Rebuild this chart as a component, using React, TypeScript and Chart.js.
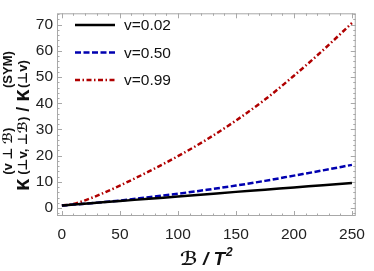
import { useEffect, useRef } from 'react';
import { Chart, registerables } from 'chart.js';

Chart.register(...registerables);

// ---- data ----
const xValues = [0, 10, 25, 50, 75, 100, 125, 150, 175, 200, 225, 250];
const seriesV002 = [1.0, 1.35, 1.9, 2.7, 3.6, 4.4, 5.3, 6.2, 7.0, 7.9, 8.7, 9.6];
const seriesV050 = [1.0, 1.35, 1.9, 2.9, 4.2, 5.5, 7.0, 8.6, 10.4, 12.4, 14.4, 16.5];
const seriesV099 = [1.0, 1.6, 3.8, 8.6, 14.0, 19.8, 26.2, 33.4, 41.4, 50.5, 60.2, 70.6];
const seriesLabels = ['v=0.02', 'v=0.50', 'v=0.99'];
const xTickLabels = [0, 50, 100, 150, 200, 250];
const yTickLabels = [0, 10, 20, 30, 40, 50, 60, 70];
const xMinorStep = 10;
const yMinorStep = 2;

const FONT = '"Liberation Sans", "DejaVu Sans", Arial, sans-serif';

const framePlugin = {
  id: 'mmaFrame',
  beforeDatasetsDraw(chart: any) {
    const { ctx, chartArea } = chart;
    const { left, right, top, bottom } = chartArea;
    const xs = chart.scales.x;
    const ys = chart.scales.y;
    ctx.save();
    ctx.strokeStyle = '#a8a8a8';
    ctx.lineWidth = 1;
    ctx.strokeRect(left + 0.5, top + 0.5, right - left - 1, bottom - top - 1);
    ctx.beginPath();
    for (let v = 0; v <= xs.max; v += xMinorStep) {
      const p = Math.round(xs.getPixelForValue(v)) + 0.5;
      const len = v % 50 === 0 ? 5 : 2.5;
      ctx.moveTo(p, bottom);
      ctx.lineTo(p, bottom - len);
      ctx.moveTo(p, top);
      ctx.lineTo(p, top + len);
    }
    for (let v = -2; v <= ys.max; v += yMinorStep) {
      if (v < ys.min) continue;
      const p = Math.round(ys.getPixelForValue(v)) + 0.5;
      const len = v % 10 === 0 ? 5 : 2.5;
      ctx.moveTo(left, p);
      ctx.lineTo(left + len, p);
      ctx.moveTo(right, p);
      ctx.lineTo(right - len, p);
    }
    ctx.stroke();
    ctx.restore();
  },
};

const legendPlugin = {
  id: 'insideLegend',
  afterDraw(chart: any) {
    const { ctx } = chart;
    ctx.save();
    chart.data.datasets.forEach((ds: any, i: number) => {
      const y = 25 + i * 27.5;
      ctx.strokeStyle = ds.borderColor;
      ctx.lineWidth = ds.borderWidth;
      ctx.setLineDash(ds.borderDash || []);
      ctx.beginPath();
      ctx.moveTo(75, y);
      ctx.lineTo(115, y);
      ctx.stroke();
      ctx.setLineDash([]);
      ctx.fillStyle = '#111';
      ctx.font = `15.5px ${FONT}`;
      ctx.textBaseline = 'middle';
      ctx.textAlign = 'left';
      ctx.fillText(ds.label, 124, y + 1);
    });
    ctx.restore();
  },
};

const titlesPlugin = {
  id: 'axisTitles',
  afterDraw(chart: any) {
    const { ctx, chartArea } = chart;
    ctx.save();
    ctx.fillStyle = '#111';
    ctx.textBaseline = 'alphabetic';
    ctx.textAlign = 'left';

    // ---- x title: ℬ / T² ----
    const mainFont = `italic bold 19px ${FONT}`;
    const supFont = `italic bold 12px ${FONT}`;
    ctx.font = mainFont;
    const mainText = 'ℬ / T';
    const wMain = ctx.measureText(mainText).width;
    ctx.font = supFont;
    const wSup = ctx.measureText('2').width;
    const cx = (chartArea.left + chartArea.right) / 2;
    const x0 = cx - (wMain + wSup + 1) / 2;
    ctx.font = mainFont;
    ctx.fillText(mainText, x0, 265);
    ctx.font = supFont;
    ctx.fillText('2', x0 + wMain + 1, 256);

    // ---- y title ----
    ctx.translate(28.5, 191);
    ctx.rotate(-Math.PI / 2);
    let x = 0;
    const kFont = `bold 22px ${FONT}`;
    const sFont = `bold 13px ${FONT}`;
    const slashFont = `bold 18px ${FONT}`;
    const stack = (sup: string, sub: string) => {
      ctx.font = sFont;
      const w1 = ctx.measureText(sup).width;
      const w2 = ctx.measureText(sub).width;
      ctx.fillText(sup, x, -16.5);
      ctx.fillText(sub, x, -1.5);
      x += Math.max(w1, w2);
    };
    ctx.font = kFont;
    ctx.fillText('κ', x, 0);
    x += ctx.measureText('κ').width + 4;
    stack('(v ⊥ ℬ)', '(⊥v, ⊥ℬ)');
    ctx.font = slashFont;
    ctx.fillText(' / ', x, 0);
    x += ctx.measureText(' / ').width;
    ctx.font = kFont;
    ctx.fillText('κ', x, 0);
    x += ctx.measureText('κ').width + 1.5;
    stack('(SYM)', '(⊥v)');
    ctx.restore();
  },
};

export default function App() {
  const canvasRef = useRef<HTMLCanvasElement | null>(null);

  useEffect(() => {
    const canvas = canvasRef.current;
    if (!canvas) return;
    const mk = (ys: number[]) => xValues.map((x, i) => ({ x, y: ys[i] }));
    const chart = new Chart(canvas, {
      type: 'line',
      data: {
        datasets: [
          {
            label: seriesLabels[0],
            data: mk(seriesV002),
            borderColor: '#000000',
            borderWidth: 2.5,
            pointRadius: 0,
            cubicInterpolationMode: 'monotone',
          },
          {
            label: seriesLabels[1],
            data: mk(seriesV050),
            borderColor: '#0000b0',
            borderWidth: 2.5,
            borderDash: [6, 2.5],
            pointRadius: 0,
            cubicInterpolationMode: 'monotone',
          },
          {
            label: seriesLabels[2],
            data: mk(seriesV099),
            borderColor: '#b00000',
            borderWidth: 2.5,
            borderDash: [5, 2.5, 1.5, 2.5],
            pointRadius: 0,
            cubicInterpolationMode: 'monotone',
          },
        ],
      },
      options: {
        responsive: false,
        animation: false,
        layout: { padding: { left: 0, top: 1, right: 10, bottom: 0 } },
        plugins: {
          legend: { display: false },
          tooltip: { enabled: false },
          title: { display: false },
        },
        scales: {
          x: {
            type: 'linear',
            min: -4.2,
            max: 253.3,
            grid: { display: false, drawTicks: false },
            border: { display: false },
            afterFit: (s: any) => {
              s.height = 55;
            },
            afterBuildTicks: (s: any) => {
              s.ticks = xTickLabels.map((v) => ({ value: v }));
            },
            ticks: {
              padding: 9,
              color: '#222',
              font: { family: FONT, size: 15.5 },
              maxRotation: 0,
              callback: (v: any) => String(v),
            },
          },
          y: {
            type: 'linear',
            min: -3,
            max: 74.3,
            grid: { display: false, drawTicks: false },
            border: { display: false },
            afterFit: (s: any) => {
              s.width = 57;
            },
            afterBuildTicks: (s: any) => {
              s.ticks = yTickLabels.map((v) => ({ value: v }));
            },
            ticks: {
              padding: 4,
              color: '#222',
              font: { family: FONT, size: 15.5 },
              callback: (v: any) => String(v),
            },
          },
        },
      },
      plugins: [framePlugin, legendPlugin, titlesPlugin],
    } as any);
    return () => chart.destroy();
  }, []);

  return (
    <div style={{ position: 'absolute', left: 0, top: 0, width: 374, height: 271, background: '#fff' }}>
      <canvas ref={canvasRef} width={374} height={271} style={{ display: 'block' }} />
    </div>
  );
}
